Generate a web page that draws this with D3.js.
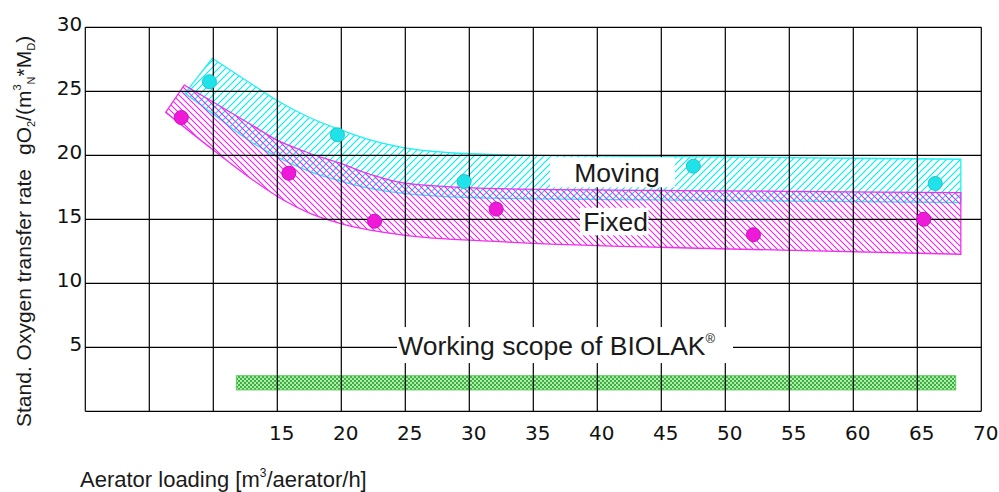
<!DOCTYPE html>
<html>
<head>
<meta charset="utf-8">
<script src="https://cdn.jsdelivr.net/npm/d3@7"></script>
<style>
  html, body { margin: 0; padding: 0; background: #fff; }
  svg { display: block; }
</style>
</head>
<body>
<svg id="chart" width="999" height="492"></svg>
<script>
// ---------- data ----------
const xTicks = [15, 20, 25, 30, 35, 40, 45, 50, 55, 60, 65, 70];
const yTicks = [5, 10, 15, 20, 25, 30];
const xGrid = [0, 5, 10, 15, 20, 25, 30, 35, 40, 45, 50, 55, 60, 65, 70];

// "Moving" measured points
const movingX = [9.7, 19.7, 29.6, 47.5, 66.4];
const movingY = [25.75, 21.6, 17.95, 19.15, 17.8];
// "Fixed" measured points
const fixedX = [7.5, 15.9, 22.6, 32.1, 52.2, 65.5];
const fixedY = [22.95, 18.6, 14.85, 15.8, 13.8, 15.0];

// Moving band edges
const movUpX = [9.92, 12.87, 14.95, 17.3, 19.9, 22.24, 24.84, 28.5, 32.4, 50.0, 68.4];
const movUpY = [27.58, 25.65, 24.3, 23.05, 22.0, 21.2, 20.6, 20.2, 20.05, 19.87, 19.69];
const movLoX = [7.79, 10.27, 12.87, 15.47, 17.55, 19.64, 22.24, 24.84, 32.4, 50.0, 68.4];
const movLoY = [24.84, 23.02, 21.1, 19.63, 18.72, 18.07, 17.42, 17.03, 16.64, 16.47, 16.3];

// Fixed band edges
const fixUpX = [7.73, 9.99, 12.87, 14.95, 17.4, 19.9, 22.3, 24.84, 32.4, 50.0, 68.4];
const fixUpY = [25.49, 24.16, 22.45, 21.2, 20.2, 19.38, 18.5, 17.85, 17.39, 17.22, 17.08];
const fixLoX = [6.28, 10.0, 12.87, 15.47, 17.55, 19.9, 22.24, 24.84, 32.4, 50.4, 68.4];
const fixLoY = [23.36, 20.41, 18.23, 16.51, 15.47, 14.69, 14.16, 13.77, 13.25, 12.68, 12.27];

// Working scope of BIOLAK
const scopeX = [11.8, 68.0];
const scopeY = [1.67, 2.78];

// ---------- layout ----------
const svg = d3.select("#chart");
const x = d3.scaleLinear().domain([0, 70]).range([85.3, 981.3]);
const y = d3.scaleLinear().domain([0, 30]).range([411.3, 27.3]);

const defs = svg.append("defs");
defs.append("pattern").attr("id", "hatchC").attr("patternUnits", "userSpaceOnUse")
  .attr("width", 7).attr("height", 7)
  .append("path").attr("d", "M0,7L7,0M-2,2L2,-2M5,9L9,5")
  .attr("stroke", "#00eef2").attr("stroke-width", 1.2).attr("fill", "none");
defs.append("pattern").attr("id", "hatchM").attr("patternUnits", "userSpaceOnUse")
  .attr("width", 6).attr("height", 6)
  .append("path").attr("d", "M0,0L6,6M-1.5,4.5L1.5,7.5M4.5,-1.5L7.5,1.5")
  .attr("stroke", "#f020ee").attr("stroke-width", 1.1).attr("fill", "none");
const gp = defs.append("pattern").attr("id", "hatchG").attr("patternUnits", "userSpaceOnUse")
  .attr("width", 4).attr("height", 4);
gp.append("rect").attr("width", 4).attr("height", 4).attr("fill", "#36b536");
gp.append("circle").attr("cx", 1).attr("cy", 1).attr("r", 0.9).attr("fill", "#f4fff4");
gp.append("circle").attr("cx", 3).attr("cy", 3).attr("r", 0.9).attr("fill", "#f4fff4");

// green scope bar
svg.append("rect")
  .attr("x", x(scopeX[0])).attr("y", y(scopeY[1]))
  .attr("width", x(scopeX[1]) - x(scopeX[0]))
  .attr("height", y(scopeY[0]) - y(scopeY[1]))
  .attr("fill", "url(#hatchG)").attr("stroke", "#5ccc5c").attr("stroke-width", 1);

// bands
function bandPath(ux, uy, lx, ly) {
  const line = d3.line().x(d => x(d[0])).y(d => y(d[1])).curve(d3.curveMonotoneX);
  const up = ux.map((v, i) => [v, uy[i]]);
  const lo = lx.map((v, i) => [v, ly[i]]).reverse();
  return line(up) + "L" + line(lo).slice(1) + "Z";
}
svg.append("path").attr("d", bandPath(movUpX, movUpY, movLoX, movLoY))
  .attr("fill", "url(#hatchC)").attr("stroke", "#22f0f4").attr("stroke-width", 1.3);
svg.append("path").attr("d", bandPath(fixUpX, fixUpY, fixLoX, fixLoY))
  .attr("fill", "url(#hatchM)").attr("stroke", "#f030f0").attr("stroke-width", 1.3);

// grid
const grid = svg.append("g").attr("stroke", "#000").attr("stroke-width", 1.2);
grid.selectAll("line.v").data(xGrid).join("line").attr("class", "v")
  .attr("x1", d => x(d)).attr("x2", d => x(d)).attr("y1", y(0)).attr("y2", y(30));
grid.selectAll("line.h").data([0].concat(yTicks)).join("line").attr("class", "h")
  .attr("x1", x(0)).attr("x2", x(70)).attr("y1", d => y(d)).attr("y2", d => y(d));

// axes labels via d3 axes (lines hidden)
const xAxis = svg.append("g").attr("transform", `translate(4,${y(0)})`)
  .call(d3.axisBottom(x).tickValues(xTicks).tickSize(0).tickPadding(14).tickFormat(d3.format("d")));
const yAxis = svg.append("g").attr("transform", `translate(${x(0) - 3},3.5)`)
  .call(d3.axisLeft(y).tickValues(yTicks).tickSize(0).tickPadding(0).tickFormat(d3.format("d")));
[xAxis, yAxis].forEach(a => {
  a.select(".domain").remove();
  a.selectAll("text").attr("font-family", "DejaVu Sans").attr("font-size", 20).attr("fill", "#111");
});
yAxis.selectAll("text").attr("dy", null).attr("dominant-baseline", "alphabetic");
xAxis.selectAll("text").attr("dy", null).attr("y", 29).attr("dominant-baseline", "alphabetic");

// dots
svg.selectAll("circle.mov").data(movingX.map((v, i) => [v, movingY[i]])).join("circle")
  .attr("class", "mov").attr("cx", d => x(d[0])).attr("cy", d => y(d[1])).attr("r", 7)
  .attr("fill", "#1fe3e8").attr("stroke", "#22c6cc").attr("stroke-width", 1);
svg.selectAll("circle.fix").data(fixedX.map((v, i) => [v, fixedY[i]])).join("circle")
  .attr("class", "fix").attr("cx", d => x(d[0])).attr("cy", d => y(d[1])).attr("r", 7)
  .attr("fill", "#ee1ad8").attr("stroke", "#cc10c0").attr("stroke-width", 1);

// annotation labels with white boxes
const font = "'Liberation Sans', Arial, sans-serif";
function boxLabel(x0, x1, yTop, yBot, tx, ty, text, sup) {
  svg.append("rect").attr("x", x(x0)).attr("y", y(yTop))
    .attr("width", x(x1) - x(x0)).attr("height", y(yBot) - y(yTop)).attr("fill", "#fff");
  const t = svg.append("text").attr("x", x(tx)).attr("y", y(ty))
    .attr("font-family", font).attr("font-size", 26.5).attr("fill", "#1a1a1a").text(text);
  if (sup) t.append("tspan").attr("font-size", 13).attr("dy", -12).text(sup);
}
boxLabel(36.3, 46.06, 19.85, 17.5, 38.2, 17.93, "Moving");
boxLabel(38.65, 44.0, 15.9, 13.75, 38.9, 14.05, "Fixed");
boxLabel(24.35, 50.6, 6.58, 3.77, 24.44, 4.4, "Working scope of BIOLAK", "®");

// axis titles
const xt = svg.append("text").attr("x", 80).attr("y", 487)
  .attr("font-family", font).attr("font-size", 22).attr("fill", "#1a1a1a");
xt.append("tspan").text("Aerator loading [m");
xt.append("tspan").attr("font-size", 12).attr("dy", -10).text("3");
xt.append("tspan").attr("dy", 10).text("/aerator/h]");

const yt = svg.append("text").attr("transform", "translate(31,427) rotate(-90)")
  .attr("font-family", font).attr("font-size", 21).attr("fill", "#1a1a1a");
yt.append("tspan").text("Stand. Oxygen transfer rate");
yt.append("tspan").attr("dx", 14).text("gO");
yt.append("tspan").attr("font-size", 11).attr("dy", 4).text("2");
yt.append("tspan").attr("dy", -4).text("/(m");
yt.append("tspan").attr("font-size", 11).attr("dy", -10).text("3");
yt.append("tspan").attr("font-size", 11).attr("dy", 14).text("N");
yt.append("tspan").attr("dy", -4).text("*M");
yt.append("tspan").attr("font-size", 11).attr("dy", 4).text("D");
yt.append("tspan").attr("dy", -4).text(")");
</script>
</body>
</html>
